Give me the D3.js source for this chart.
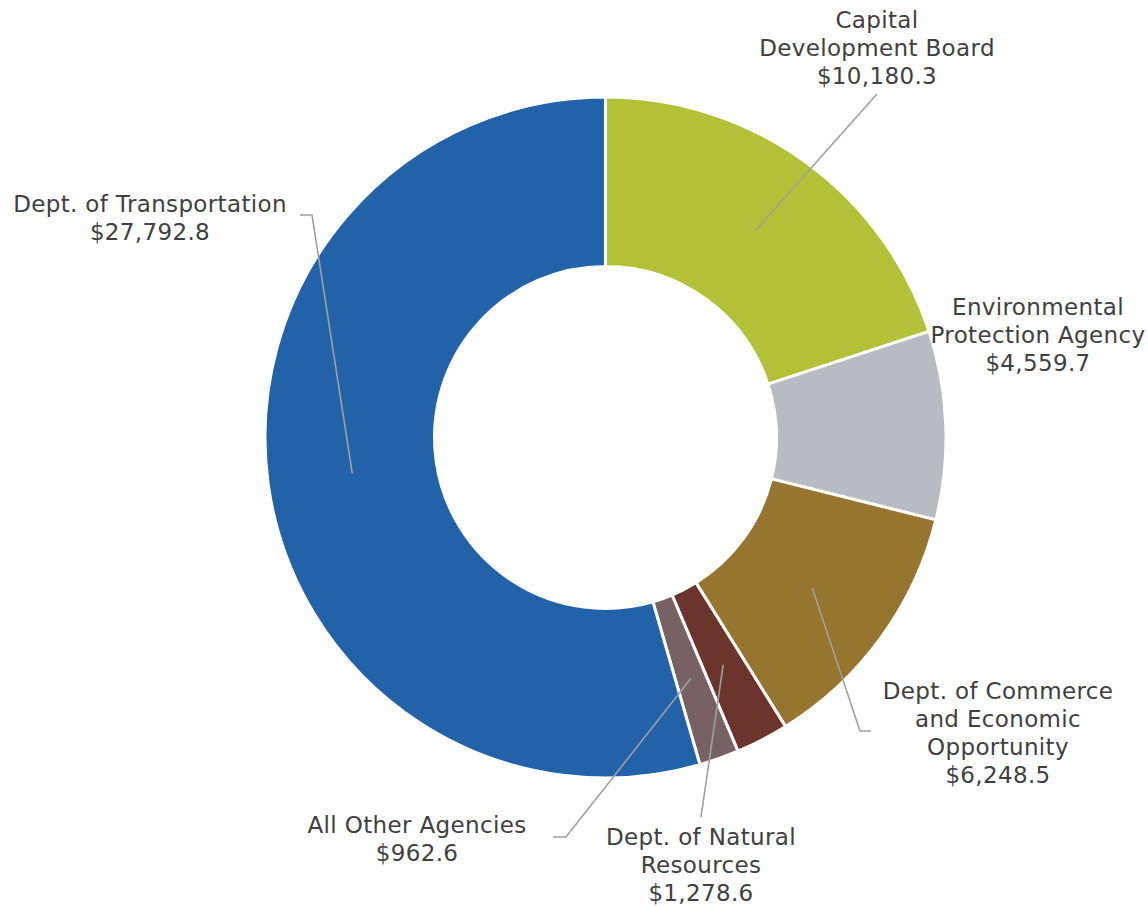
<!DOCTYPE html>
<html>
<head>
<meta charset="utf-8">
<script src="https://cdn.jsdelivr.net/npm/d3@7"></script>
<style>
  body { margin: 0; background: #fff; }
  text { font-family: "DejaVu Sans", sans-serif; fill: #404040; letter-spacing: 0.35px; }
</style>
</head>
<body>
<div id="chart"></div>
<script>
// DATA
const agencies = [
  "Capital Development Board",
  "Environmental Protection Agency",
  "Dept. of Commerce and Economic Opportunity",
  "Dept. of Natural Resources",
  "All Other Agencies",
  "Dept. of Transportation",
];
const amounts = [10180.3, 4559.7, 6248.5, 1278.6, 962.6, 27792.8];
const labelLines = [
  ["Capital", "Development Board"],
  ["Environmental", "Protection Agency"],
  ["Dept. of Commerce", "and Economic", "Opportunity"],
  ["Dept. of Natural", "Resources"],
  ["All Other Agencies"],
  ["Dept. of Transportation"],
];
const sliceColors = ["#b2c237", "#b9bbc3", "#96752e", "#6b352d", "#786165", "#2262a8"];

// LAYOUT (label anchors and leader elbows)
const labelPos = [
  { x: 877, y: 28 },
  { x: 1038, y: 315 },
  { x: 998, y: 699 },
  { x: 701, y: 845 },
  { x: 417, y: 833 },
  { x: 150, y: 212 },
];
const leaderEnds = [
  [[877, 94]],
  null,
  [[860, 731], [871, 731]],
  [[701, 817]],
  [[566, 837], [553, 837]],
  [[312, 215], [300, 215]],
];

const width = 1148,
  height = 906,
  cx = 605.5,
  cy = 437.5,
  outerR = 340.5,
  innerR = 171,
  lineH = 28;

const data = agencies.map((name, i) => ({ name: name, value: amounts[i], i: i }));
const fmt = d3.format("$,.1f");

const svg = d3
  .select("#chart")
  .append("svg")
  .attr("width", width)
  .attr("height", height);

const pie = d3.pie().sort(null).value((d) => d.value);
const arc = d3.arc().innerRadius(innerR).outerRadius(outerR);

const g = svg.append("g").attr("transform", `translate(${cx},${cy})`);

const arcs = pie(data);

g.selectAll("path.slice")
  .data(arcs)
  .join("path")
  .attr("class", "slice")
  .attr("d", arc)
  .attr("fill", (d) => sliceColors[d.data.i])
  .attr("stroke", "#fff")
  .attr("stroke-width", 3);

// leader lines from slice centroid
const line = d3.line();
svg
  .selectAll("path.leader")
  .data(arcs.filter((d) => leaderEnds[d.data.i]))
  .join("path")
  .attr("class", "leader")
  .attr("fill", "none")
  .attr("stroke", "#a0a0a0")
  .attr("stroke-width", 1.6)
  .attr("d", (d) => {
    const c = arc.centroid(d);
    return line([[c[0] + cx, c[1] + cy]].concat(leaderEnds[d.data.i]));
  });

// labels
const labels = svg
  .selectAll("text.label")
  .data(data)
  .join("text")
  .attr("class", "label")
  .attr("text-anchor", "middle")
  .attr("font-size", 23)
  .attr("x", (d) => labelPos[d.i].x)
  .attr("y", (d) => labelPos[d.i].y);

labels
  .selectAll("tspan")
  .data((d) => labelLines[d.i].concat([fmt(d.value)]).map((t) => ({ t: t, x: labelPos[d.i].x })))
  .join("tspan")
  .attr("x", (d) => d.x)
  .attr("dy", (d, j) => (j === 0 ? 0 : lineH))
  .text((d) => d.t);
</script>
</body>
</html>
